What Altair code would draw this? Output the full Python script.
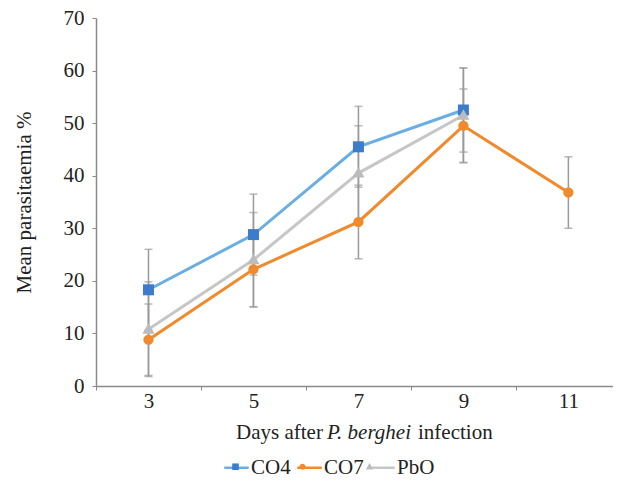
import altair as alt
import pandas as pd

days = [3, 5, 7, 9, 11]
series = ["CO4", "CO7", "PbO"]
co4_mean = [18.3, 28.8, 45.5, 52.5]
co4_err = [7.7, 7.7, 7.7, 8.0]
co7_mean = [8.8, 22.2, 31.2, 49.5, 36.8]
co7_err = [6.8, 7.1, 7.0, 7.0, 6.8]
pbo_mean = [10.8, 24.0, 40.5, 51.5]
pbo_err = [9.0, 9.0, 9.0, 9.0]

line_colors = ["#6aaee3", "#f08a2c", "#c6c6c6"]
marker_colors = ["#3d7bcc", "#f08a2c", "#bcbcbc"]
# marker outlines drawn inside a -1..1 box so the legend line and marker share the same box
marker_paths = [
    "M-0.27,-0.27H0.27V0.27H-0.27Z",
    "M-0.25,0A0.25,0.25 0 1,0 0.25,0A0.25,0.25 0 1,0 -0.25,0Z",
    "M0,-0.3L0.3,0.22L-0.3,0.22Z",
]
marker_keys = [s + "_m" for s in series]

rows = []
for name, key, means, errs in [("CO4", marker_keys[0], co4_mean, co4_err),
                               ("CO7", marker_keys[1], co7_mean, co7_err),
                               ("PbO", marker_keys[2], pbo_mean, pbo_err)]:
    for d, m, e in zip(days, means, errs):
        rows.append({"day": d, "series": name, "marker": key, "mean": m, "lo": m - e, "hi": m + e})
df = pd.DataFrame(rows)

W, H = 517, 368
FONT = "Liberation Serif"
LEG_X, LEG_Y, LEG_SIZE = 127, 436, 600

x = alt.X("day:Q", scale=alt.Scale(domain=[2, 11.85], nice=False),
          axis=alt.Axis(values=[2, 3, 4, 5, 6, 7, 8, 9, 10, 11],
                        labelExpr="datum.value % 2 == 1 ? datum.label : ''",
                        tickOpacity={"condition": {"test": "datum.value % 2 == 1", "value": 0}, "value": 1},
                        title=None, grid=False, tickSize=4, labelPadding=0,
                        labelFontSize=21, labelFont=FONT, labelColor="#222",
                        domainColor="#8a8a8a", tickColor="#8a8a8a"))
y = alt.Y("mean:Q", scale=alt.Scale(domain=[0, 70], nice=False),
          axis=alt.Axis(values=[0, 10, 20, 30, 40, 50, 60, 70], title="Mean parasitaemia %",
                        grid=False, tickSize=4, labelPadding=8, titlePadding=29,
                        labelFontSize=21, labelFont=FONT, labelColor="#222",
                        titleFont=FONT, titleFontSize=21, titleFontWeight="normal", titleColor="#222",
                        domainColor="#8a8a8a", tickColor="#8a8a8a"))

base = alt.Chart(df)

err_rule = base.mark_rule(color="#9a9a9a", strokeWidth=1.5).encode(
    x=x, y=alt.Y("lo:Q"), y2="hi:Q")
cap_lo = base.mark_tick(color="#9a9a9a", orient="horizontal", size=8, thickness=1.5).encode(x=x, y=alt.Y("lo:Q"))
cap_hi = base.mark_tick(color="#9a9a9a", orient="horizontal", size=8, thickness=1.5).encode(x=x, y=alt.Y("hi:Q"))

lines = base.mark_line(strokeWidth=3).encode(
    x=x, y=y,
    stroke=alt.Stroke("series:N", scale=alt.Scale(domain=series, range=line_colors),
                      legend=alt.Legend(title=None, orient="none", direction="horizontal",
                                        legendX=LEG_X, legendY=LEG_Y, zindex=1,
                                        symbolType="stroke", symbolSize=LEG_SIZE, symbolStrokeWidth=2.5,
                                        labelFont=FONT, labelFontSize=21, labelColor="#222",
                                        labelOffset=1, columnPadding=1)),
    detail="series:N")

marker_legend = alt.Legend(title=None, orient="none", direction="horizontal",
                           legendX=LEG_X, legendY=LEG_Y, zindex=2,
                           symbolSize=LEG_SIZE, symbolStrokeWidth=0,
                           labelFont=FONT, labelFontSize=21, labelOpacity=0,
                           labelExpr="replace(datum.label, '_m', '')",
                           labelOffset=1, columnPadding=1)
points = base.mark_point(filled=True, opacity=1, size=1660, strokeWidth=0).encode(
    x=x, y=y,
    shape=alt.Shape("marker:N", scale=alt.Scale(domain=marker_keys, range=marker_paths), legend=marker_legend),
    fill=alt.Fill("marker:N", scale=alt.Scale(domain=marker_keys, range=marker_colors), legend=marker_legend),
)

title_parts = [
    ("Days after", "normal", 140),
    ("P. berghei", "italic", 231),
    ("infection", "normal", 322),
]
title_layers = []
for txt, style, px in title_parts:
    title_layers.append(
        alt.Chart(pd.DataFrame({"txt": [txt]})).mark_text(
            font=FONT, fontSize=21, fontStyle=style, align="left", baseline="middle", color="#222"
        ).encode(text="txt:N", x=alt.value(px), y=alt.value(H + 47))
    )

chart = alt.layer(err_rule, cap_lo, cap_hi, lines, points, *title_layers).properties(
    width=W, height=H, padding={"left": 5, "top": -1, "right": 0, "bottom": 0}
).configure_view(stroke=None).configure_axis(domainWidth=1.5)

chart.save("out.html", embed_options={"renderer": "svg", "actions": False})
